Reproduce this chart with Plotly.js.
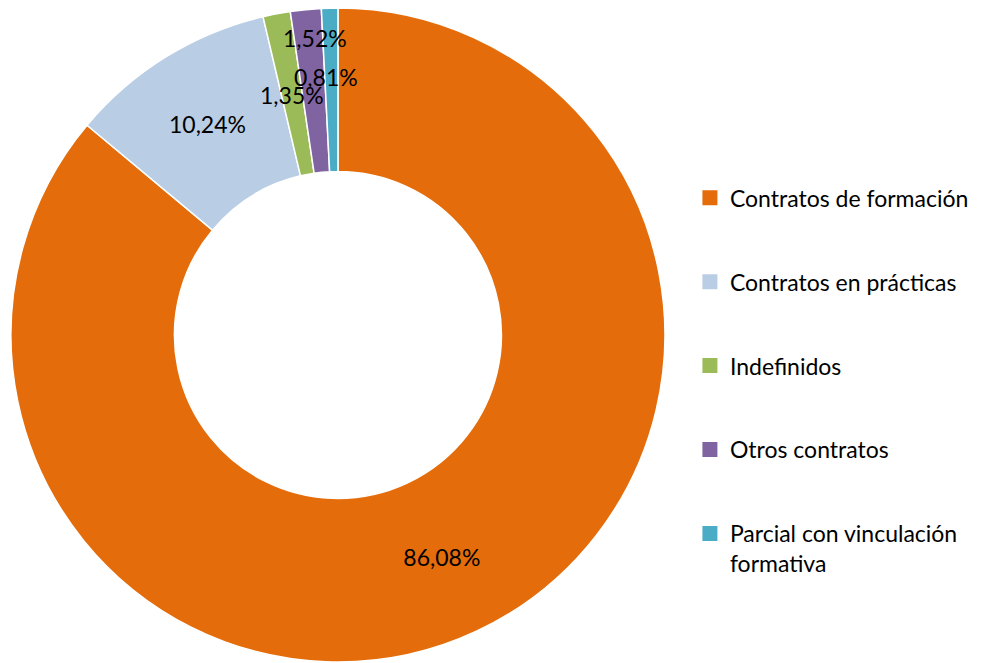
<!DOCTYPE html>
<html><head><meta charset="utf-8">
<script src="https://cdn.plot.ly/plotly-3.0.1.min.js"></script>
<style>html,body{margin:0;padding:0;background:#fff}#chart{width:987px;height:663px}</style>
</head><body><div id="chart"></div>
<script>
const categories = ['Contratos de formación','Contratos en prácticas','Indefinidos','Otros contratos','Parcial con vinculación<br>formativa'];
const values = [86.08, 10.24, 1.35, 1.52, 0.81];
const valueLabels = ['86,08%','10,24%','1,35%','1,52%','0,81%'];
const colors = ['#E46C0A','#B9CDE5','#9BBB59','#8064A2','#4BACC6'];

const FONT = 'Lato, "Open Sans", sans-serif';
const bigMask = values.map(v => v > 5);

const pie = {
  type: 'pie',
  values: values,
  labels: categories,
  text: valueLabels.map((t,i) => bigMask[i] ? t : ''),
  textinfo: 'text',
  textposition: 'inside',
  insidetextorientation: 'horizontal',
  hole: 0.5,
  sort: false,
  direction: 'clockwise',
  rotation: 0,
  marker: {colors: colors, line: {color: '#ffffff', width: 1.5}},
  textfont: {family: FONT, size: 23, color: '#000000'},
  showlegend: false,
  domain: {x: [0.0111, 0.6737], y: [0.0015, 0.988]}
};

const legendTraces = categories.map((c, i) => ({
  type: 'scatter', mode: 'markers', x: [null], y: [null],
  name: c, legendgroup: 'g' + i,
  marker: {symbol: 'square', size: 15, color: colors[i]},
  hoverinfo: 'skip'
}));

// small-slice labels placed as in reference
const smallPos = {2: [0.296, 0.857], 3: [0.319, 0.943], 4: [0.330, 0.884]};
const annotations = Object.keys(smallPos).map(k => ({
  xref: 'paper', yref: 'paper', x: smallPos[k][0], y: smallPos[k][1],
  xanchor: 'center', yanchor: 'middle',
  text: valueLabels[k], showarrow: false,
  font: {family: FONT, size: 23, color: '#000000'}
}));

const layout = {
  width: 987, height: 663,
  margin: {l: 0, r: 0, t: 0, b: 0},
  paper_bgcolor: '#ffffff', plot_bgcolor: 'rgba(0,0,0,0)',
  xaxis: {visible: false, domain: [0.98, 1]},
  yaxis: {visible: false, domain: [0.98, 1]},
  showlegend: true,
  legend: {
    x: 0.699, xanchor: 'left', y: 0.734, yanchor: 'top',
    font: {family: FONT, size: 23, color: '#000000'},
    traceorder: 'grouped', tracegroupgap: 51, valign: 'top',
    bgcolor: 'rgba(0,0,0,0)'
  },
  annotations: annotations
};

Plotly.newPlot('chart', [pie].concat(legendTraces), layout, {displayModeBar: false, staticPlot: true});
</script>
</body></html>
